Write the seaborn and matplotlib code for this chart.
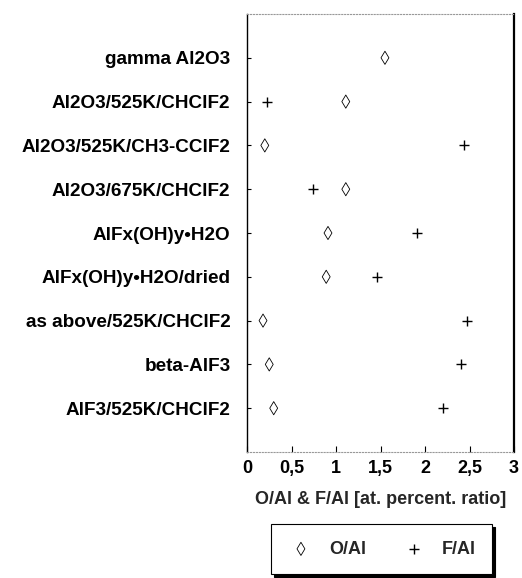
import numpy as np
import pandas as pd
import matplotlib
matplotlib.use("Agg")
import matplotlib.pyplot as plt
import seaborn as sns

# Samples (top to bottom) and surface atomic ratios
samples = [
    "gamma Al2O3",
    "Al2O3/525K/CHClF2",
    "Al2O3/525K/CH3-CClF2",
    "Al2O3/675K/CHClF2",
    "AlFx(OH)y\u2022H2O",
    "AlFx(OH)y\u2022H2O/dried",
    "as above/525K/CHClF2",
    "beta-AlF3",
    "AlF3/525K/CHClF2",
]
o_al = [1.55, 1.11, 0.20, 1.11, 0.91, 0.89, 0.18, 0.25, 0.30]
f_al = [np.nan, 0.22, 2.44, 0.74, 1.91, 1.46, 2.47, 2.40, 2.20]
x_ticks = [0, 0.5, 1, 1.5, 2, 2.5, 3]
x_tick_labels = ["0", "0,5", "1", "1,5", "2", "2,5", "3"]

sns.set_style("ticks")
plt.rcParams["font.family"] = ["Liberation Sans", "DejaVu Sans"]
plt.rcParams["font.weight"] = "bold"
FS = 13
FS_Y = 13.6

df = pd.DataFrame({"sample": samples, "pos": np.arange(len(samples)),
                   "O/Al": o_al, "F/Al": f_al})

fig = plt.figure(figsize=(5.22, 5.78), dpi=100)
ax = fig.add_axes([247 / 522, 1 - 452 / 578, 267 / 522, 438 / 578])

sns.scatterplot(data=df, x="O/Al", y="pos", ax=ax, marker="d", s=45,
                facecolor="none", edgecolor="black", linewidth=0.6,
                label="O/Al")
sns.scatterplot(data=df, x="F/Al", y="pos", ax=ax, marker="+", s=45,
                color="black", linewidth=1.0, label="F/Al")

ax.set_xlim(0, 3)
ax.set_ylim(9, -1)
ax.set_xticks(x_ticks, x_tick_labels)
ax.set_yticks(df["pos"], samples)
ax.tick_params(axis="x", direction="in", length=4, width=0.8, pad=6,
               labelsize=FS, colors="black")
ax.tick_params(axis="y", direction="in", length=3, width=0.8, pad=12,
               labelsize=FS_Y, colors="black")
for lab in ax.get_xticklabels() + ax.get_yticklabels():
    lab.set_fontweight("bold")

ax.set_ylabel("")
ax.set_xlabel("O/Al & F/Al [at. percent. ratio]", fontsize=FS,
              fontweight="bold", labelpad=10)

for side in ("top", "bottom"):
    ax.spines[side].set_linestyle(":")
    ax.spines[side].set_color("#999999")
    ax.spines[side].set_linewidth(0.8)
ax.spines["left"].set_color("black")
ax.spines["left"].set_linewidth(1.0)
ax.spines["right"].set_visible(True)
ax.spines["right"].set_color("black")
ax.spines["right"].set_linewidth(1.6)

leg = ax.legend(loc="center", bbox_to_anchor=(0.731, 0.05),
                bbox_transform=fig.transFigure, ncol=2, frameon=True,
                fancybox=False, shadow={"color": "black", "alpha": 1},
                edgecolor="black", framealpha=1, borderpad=0.9,
                handlelength=1.5, handletextpad=0.8, columnspacing=1.9,
                scatterpoints=1, prop={"size": FS, "weight": "bold"})
leg.get_frame().set_linewidth(0.8)

fig.savefig("out.png", dpi=100)
